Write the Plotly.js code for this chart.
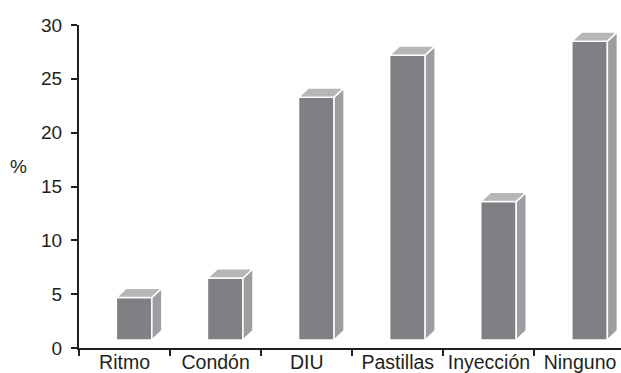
<!DOCTYPE html>
<html>
<head>
<meta charset="utf-8">
<script src="https://cdn.plot.ly/plotly-3.0.1.min.js"></script>
<style>html,body{margin:0;padding:0;background:#fff;}#chart{width:621px;height:373px;}</style>
</head>
<body>
<div id="chart"></div>
<script>
const categories = ["Ritmo", "Condón", "DIU", "Pastillas", "Inyección", "Ninguno"];
const values = [4.7, 6.5, 23.3, 27.2, 13.6, 28.5];
const yTicks = [0, 5, 10, 15, 20, 25, 30];

// style constants
const BASE = 0.75, W = 0.39, OFF = -0.09, DX = 0.11, DY = 0.86;
const FRONT = "#7f8084", SIDE = "#9d9ea1", TOP = "#b5b6b8", INK = "#231f20";
const FONT = "Liberation Sans, Arial, sans-serif";

const traces = [];
traces.push({
  type: "bar", x: categories, y: values.map(v => v - BASE), base: BASE,
  width: W, offset: OFF,
  marker: {color: FRONT, line: {color: "#ffffff", width: 1.5}},
  hoverinfo: "skip", showlegend: false
});
values.forEach((v, i) => {
  const x0 = i + OFF, x1 = i + OFF + W;
  traces.push({
    type: "scatter", mode: "lines", xaxis: "x2", yaxis: "y",
    x: [x1, x1, x1 + DX, x1 + DX, x1],
    y: [BASE, v, v + DY, BASE + DY, BASE],
    fill: "toself", fillcolor: SIDE, line: {color: "#ffffff", width: 1.5},
    hoverinfo: "skip", showlegend: false
  });
  traces.push({
    type: "scatter", mode: "lines", xaxis: "x2", yaxis: "y",
    x: [x0, x1, x1 + DX, x0 + DX, x0],
    y: [v, v, v + DY, v + DY, v],
    fill: "toself", fillcolor: TOP, line: {color: "#ffffff", width: 1.5},
    hoverinfo: "skip", showlegend: false
  });
});

const layout = {
  width: 621, height: 373,
  margin: {l: 79, r: 0, t: 25, b: 25},
  paper_bgcolor: "#ffffff", plot_bgcolor: "#ffffff",
  font: {family: FONT, color: INK},
  xaxis: {
    type: "category", range: [-0.5, 5.45], tickson: "boundaries",
    ticks: "outside", ticklen: 6, tickwidth: 2, tickcolor: INK,
    showline: true, linewidth: 2, linecolor: INK, showgrid: false,
    tickangle: 0, ticklabelstandoff: -4,
    tickfont: {size: 19.5, family: FONT, color: INK}, fixedrange: true
  },
  xaxis2: {
    type: "linear", range: [-0.5, 5.45], overlaying: "x", visible: false, fixedrange: true
  },
  yaxis: {
    range: [0, 30], tickvals: yTicks, ticktext: yTicks.map(String),
    ticks: "outside", ticklen: 6, tickwidth: 2, tickcolor: INK,
    showline: true, linewidth: 2, linecolor: INK, showgrid: false, zeroline: false,
    ticklabelstandoff: 5,
    tickfont: {size: 19, family: FONT, color: INK}, fixedrange: true
  },
  annotations: [{
    text: "%", xref: "paper", yref: "paper", x: -0.112, y: 0.562,
    xanchor: "center", yanchor: "middle", showarrow: false,
    font: {size: 19, family: FONT, color: INK}
  }],
  showlegend: false
};

Plotly.newPlot("chart", traces, layout, {displayModeBar: false, staticPlot: true});
</script>
</body>
</html>
